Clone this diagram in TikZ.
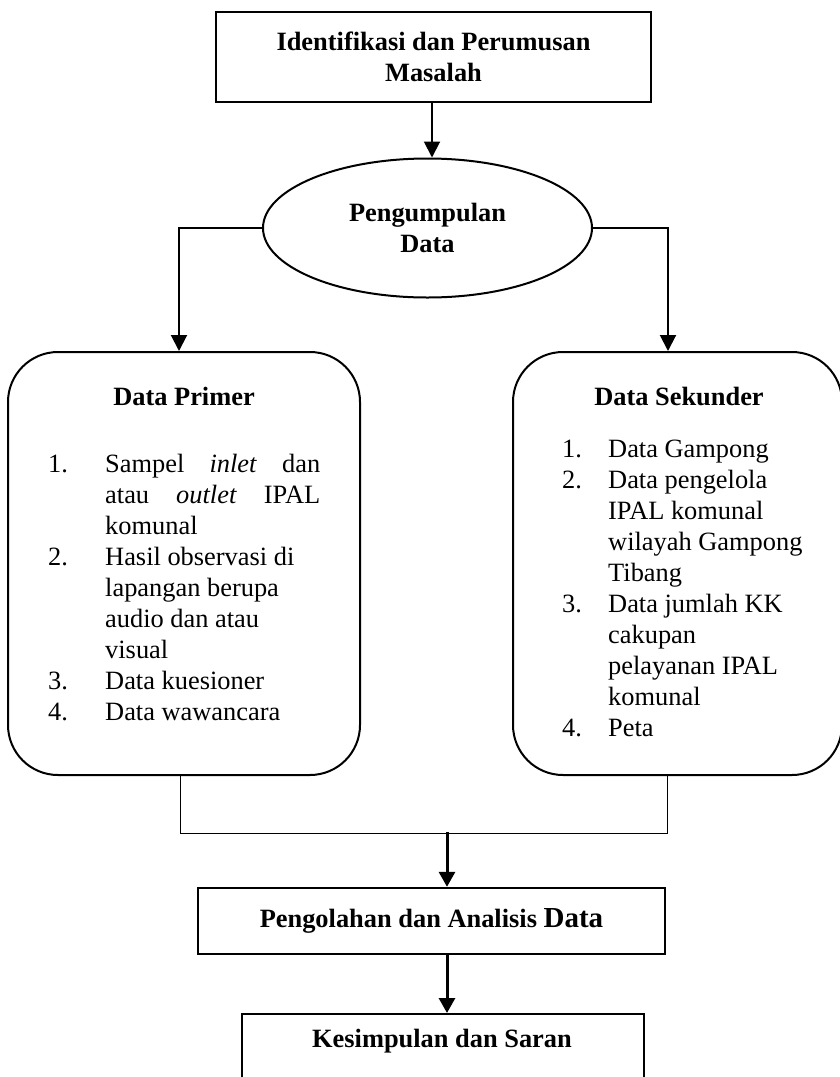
\documentclass[tikz,border=0pt]{standalone}
\usepackage{fontspec}
\setmainfont{Liberation Serif}
\usetikzlibrary{arrows.meta,shapes.geometric}

\begin{document}
\fontsize{26.4}{31}\selectfont
\begin{tikzpicture}[x=1pt,y=-1pt,
  kotak/.style={draw,line width=2pt,font=\bfseries,align=center,inner sep=0pt},
  bulat/.style={draw,line width=2pt,rounded corners=50pt,inner sep=0pt},
  panah/.style={line width=2pt,-{Triangle[width=16pt,length=16pt]}},
  panahtebal/.style={line width=3pt,-{Triangle[width=16pt,length=15pt]}},
  garis/.style={line width=1pt}]
\useasboundingbox (0,0) rectangle (840,1077);

% kotak atas dan elips
\node[kotak,minimum width=435pt,minimum height=90pt] (masalah) at (433.5,57)
  {Identifikasi dan Perumusan\\Masalah};
\node[kotak,ellipse,minimum width=329pt,minimum height=139pt] (kumpul) at (427.5,228)
  {Pengumpulan\\Data};

% data primer dan sekunder
\node[bulat,minimum width=352pt,minimum height=423pt] (primer) at (184,563.5) {};
\node[bulat,minimum width=329pt,minimum height=423pt] (sekunder) at (677.5,563.5) {};
\node[font=\bfseries,anchor=base] (judulprimer) at (184,405) {Data Primer};
\node[font=\bfseries,anchor=base] (judulsekunder) at (679,405) {Data Sekunder};

\node[anchor=base west,inner sep=0pt] (isiprimer) at (48,472) {%
\begin{tabular}[t]{@{}p{57pt}@{}l@{}}
1. & \makebox[215pt][s]{Sampel \textit{inlet} dan}\\
   & \makebox[215pt][s]{atau \textit{outlet} IPAL}\\
   & komunal\\
2. & Hasil observasi di\\
   & lapangan berupa\\
   & audio dan atau\\
   & visual\\
3. & Data kuesioner\\
4. & Data wawancara
\end{tabular}};

\node[anchor=base west,inner sep=0pt] (isisekunder) at (562,457) {%
\begin{tabular}[t]{@{}p{46pt}@{}l@{}}
1. & Data Gampong\\
2. & Data pengelola\\
   & IPAL komunal\\
   & wilayah Gampong\\
   & Tibang\\
3. & Data jumlah KK\\
   & cakupan\\
   & pelayanan IPAL\\
   & komunal\\
4. & Peta
\end{tabular}};

% kotak bawah
\node[kotak,line width=2.4pt,minimum width=467pt,minimum height=66pt] (olah) at (431.5,921)
  {Pengolahan dan Analisis {\fontsize{29}{31}\selectfont Data}};
\node[kotak,line width=2.4pt,minimum width=402pt,minimum height=100pt,anchor=north] (simpul) at (443,1013) {};
\node[font=\bfseries,anchor=base] (teksimpul) at (442,1047) {Kesimpulan dan Saran};

% panah
\draw[panah] (masalah.south -| 432,0) -- (kumpul.north -| 432,0);
\draw[panah] (kumpul.west) -| ([xshift=-5pt]primer.north);
\draw[panah] (kumpul.east) -| ([xshift=-9.5pt]sekunder.north);
\draw[garis] ([xshift=-4pt]primer.south) -- ++(0,57) -| ([xshift=-10.5pt]sekunder.south);
\coordinate (gabung) at (447,832);
\draw[panahtebal] (gabung) -- (gabung |- olah.north);
\draw[panahtebal] (olah.south -| gabung) -- (simpul.north -| gabung);
\end{tikzpicture}
\end{document}
